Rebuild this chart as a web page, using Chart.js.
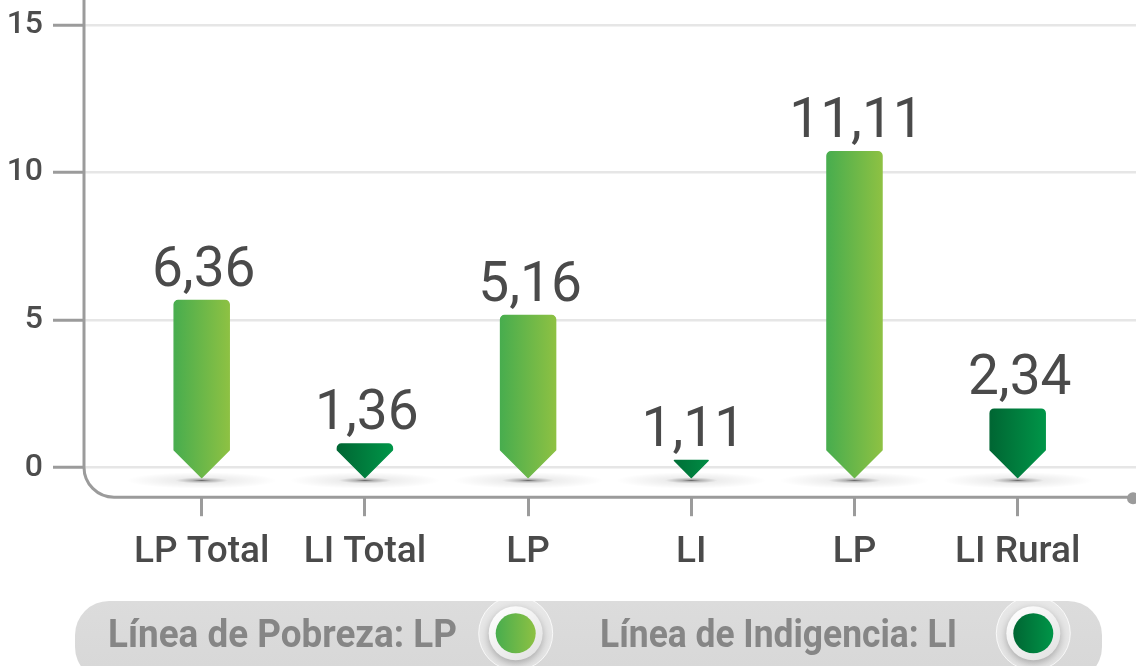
<!DOCTYPE html>
<html>
<head>
<meta charset="utf-8">
<script src="https://cdn.jsdelivr.net/npm/chart.js@4/dist/chart.umd.min.js"></script>
<style>
  html, body { margin: 0; padding: 0; background: #ffffff; }
  #wrap { position: relative; width: 1136px; height: 666px; overflow: hidden; }
  canvas { display: block; }
</style>
</head>
<body>
<div id="wrap"><canvas id="c" width="1136" height="666"></canvas></div>
<script>
// ---- data ----
const categories   = ['LP Total', 'LI Total', 'LP', 'LI', 'LP', 'LI Rural'];
const valueLabels  = ['6,36', '1,36', '5,16', '1,11', '11,11', '2,34'];
const barHeights   = [5.66, 0.80, 5.15, 0.24, 10.70, 1.98];
const seriesKind   = ['LP', 'LI', 'LP', 'LI', 'LP', 'LI'];
const yTicks       = [0, 5, 10, 15];
const legendLabels = ['Línea de Pobreza: LP', 'Línea de Indigencia: LI'];
const legendKinds  = ['LP', 'LI'];

// ---- styling ----
const TIP = -0.33;            // arrow tip sits a little below zero
const colors = {
  LP: ['#48ad4e', '#8dc143'],
  LI: ['#006633', '#009548']
};

const arrowPlugin = {
  id: 'arrowBars',
  afterDatasetsDraw(chart) {
    const ctx = chart.ctx;
    const meta = chart.getDatasetMeta(0);
    // shadows
    meta.data.forEach((el) => {
      const cx = el.x, tipY = Math.max(el.base, el.y);
      ctx.save();
      ctx.translate(cx, tipY + 3);
      ctx.scale(1, 0.11);
      const g = ctx.createRadialGradient(0, 0, 0, 0, 0, 75);
      g.addColorStop(0, 'rgba(0,0,0,0.6)');
      g.addColorStop(0.12, 'rgba(0,0,0,0.3)');
      g.addColorStop(0.35, 'rgba(0,0,0,0.07)');
      g.addColorStop(1, 'rgba(0,0,0,0)');
      ctx.fillStyle = g;
      ctx.beginPath();
      ctx.arc(0, 0, 75, 0, Math.PI * 2);
      ctx.fill();
      ctx.restore();
    });
    // bars
    meta.data.forEach((el, i) => {
      const cx = el.x, half = el.width / 2;
      const topY = Math.min(el.y, el.base), tipY = Math.max(el.y, el.base);
      const c = colors[seriesKind[i]];
      const g = ctx.createLinearGradient(cx - half, 0, cx + half, 0);
      g.addColorStop(0, c[0]);
      g.addColorStop(1, c[1]);
      ctx.save();
      ctx.fillStyle = g;
      ctx.strokeStyle = g;
      ctx.lineWidth = 1.5;
      ctx.lineJoin = 'round';
      ctx.beginPath();
      const chev = half;
      const r = 4;
      if (tipY - topY > chev + 3) {
        ctx.moveTo(cx - half, topY + r);
        ctx.arcTo(cx - half, topY, cx - half + r, topY, r);
        ctx.lineTo(cx + half - r, topY);
        ctx.arcTo(cx + half, topY, cx + half, topY + r, r);
        ctx.lineTo(cx + half, tipY - chev);
        ctx.lineTo(cx, tipY);
        ctx.lineTo(cx - half, tipY - chev);
        ctx.closePath();
      } else {
        const tw = Math.min(half, tipY - topY);
        ctx.moveTo(cx - tw, topY);
        ctx.lineTo(cx + tw, topY);
        ctx.lineTo(cx, tipY);
        ctx.closePath();
      }
      ctx.fill();
      ctx.stroke();
      ctx.restore();
      // value label
      ctx.save();
      ctx.fillStyle = '#4a4a4a';
      ctx.font = '400 55px Roboto';
      ctx.textAlign = 'center';
      ctx.textBaseline = 'alphabetic';
      ctx.fillText(valueLabels[i], cx + 2, topY - 15);
      ctx.restore();
    });
  },
  beforeDatasetsDraw(chart) {
    // custom rounded axis line
    const ctx = chart.ctx;
    const a = chart.chartArea;
    const rad = 30;
    ctx.save();
    ctx.strokeStyle = '#9b9b9b';
    ctx.lineWidth = 3;
    ctx.beginPath();
    ctx.moveTo(a.left, a.top);
    ctx.lineTo(a.left, a.bottom - rad);
    ctx.arcTo(a.left, a.bottom, a.left + rad, a.bottom, rad);
    ctx.lineTo(a.right - 4, a.bottom);
    ctx.stroke();
    ctx.fillStyle = '#9b9b9b';
    ctx.beginPath();
    ctx.arc(a.right - 3, a.bottom + 1, 6, 0, Math.PI * 2);
    ctx.fill();
    ctx.restore();
  },
  afterDraw(chart) {
    // legend pill
    const ctx = chart.ctx;
    ctx.save();
    const px = 75, py = 601, pw = 1027, ph = 80, pr = 34;
    const pg = ctx.createLinearGradient(0, py, 0, py + 65);
    pg.addColorStop(0, '#dcdcdc');
    pg.addColorStop(1, '#d8d8d8');
    ctx.fillStyle = pg;
    ctx.beginPath();
    ctx.roundRect(px, py, pw, ph, pr);
    ctx.fill();

    const textX = [108, 600];
    const textW = [349, 357];
    const circX = [515.7, 1033.3];
    const cy = 633.3;
    legendLabels.forEach((txt, i) => {
      ctx.save();
      ctx.font = '700 39px Roboto';
      ctx.fillStyle = '#868686';
      ctx.textBaseline = 'alphabetic';
      const w = ctx.measureText(txt).width;
      ctx.translate(textX[i], 647);
      ctx.scale(textW[i] / w, 1);
      ctx.fillText(txt, 0, 0);
      ctx.restore();

      const x = circX[i];
      // halo
      ctx.save();
      ctx.fillStyle = 'rgba(255,255,255,0.35)';
      ctx.strokeStyle = 'rgba(255,255,255,0.8)';
      ctx.lineWidth = 1;
      ctx.beginPath();
      ctx.arc(x, cy, 37, 0, Math.PI * 2);
      ctx.fill();
      ctx.stroke();
      ctx.restore();
      // white ring
      ctx.save();
      ctx.shadowColor = 'rgba(0,0,0,0.28)';
      ctx.shadowBlur = 8;
      ctx.shadowOffsetY = 3;
      const rg = ctx.createLinearGradient(x - 20, cy - 27, x + 20, cy + 27);
      rg.addColorStop(0, '#ffffff');
      rg.addColorStop(1, '#e2e2e2');
      ctx.fillStyle = rg;
      ctx.beginPath();
      ctx.arc(x, cy, 27, 0, Math.PI * 2);
      ctx.fill();
      ctx.restore();
      // inner colour dot
      const c = colors[legendKinds[i]];
      const dg = ctx.createLinearGradient(x - 20, 0, x + 20, 0);
      dg.addColorStop(0, c[0]);
      dg.addColorStop(1, c[1]);
      ctx.fillStyle = dg;
      ctx.beginPath();
      ctx.arc(x, cy, 20, 0, Math.PI * 2);
      ctx.fill();
    });
    ctx.restore();
  }
};

new Chart(document.getElementById('c'), {
  type: 'bar',
  data: {
    datasets: [{
      data: barHeights.map((h, i) => ({ x: i, y: [TIP, h] })),
      backgroundColor: 'rgba(0,0,0,0)',
      borderWidth: 0,
      barThickness: 55
    }]
  },
  options: {
    responsive: false,
    animation: false,
    devicePixelRatio: 1,
    layout: { padding: 0 },
    plugins: { legend: { display: false }, tooltip: { enabled: false } },
    scales: {
      x: {
        type: 'linear',
        offset: false,
        min: -0.7212,
        max: 5.725,
        afterBuildTicks: (s) => { s.ticks = categories.map((_, i) => ({ value: i })); },
        afterFit: (s) => { s.height = 666 - 497.2; s.paddingLeft = 0; s.paddingRight = 0; },
        border: { display: false },
        grid: { offset: false, drawOnChartArea: false, drawTicks: true, tickLength: 19, tickColor: '#9b9b9b', tickWidth: 3 },
        ticks: {
          autoSkip: false, maxRotation: 0, padding: 14,
          color: '#4a4a4a',
          font: { family: 'Roboto', size: 37, weight: '500' },
          callback: (v) => categories[v]
        }
      },
      y: {
        min: -1,
        max: 15.84,
        afterBuildTicks: (s) => { s.ticks = yTicks.map(v => ({ value: v })); },
        afterFit: (s) => { s.width = 84; s.paddingTop = 0; s.paddingBottom = 0; },
        border: { display: false },
        grid: { color: '#e6e6e6', lineWidth: 2.5, drawTicks: true, tickLength: 31, tickColor: '#9b9b9b', tickWidth: 3 },
        ticks: {
          padding: 10, color: '#4d4d4d',
          font: { family: 'Roboto', size: 32, weight: '500' }
        }
      }
    }
  },
  plugins: [arrowPlugin]
});
</script>
</body>
</html>
